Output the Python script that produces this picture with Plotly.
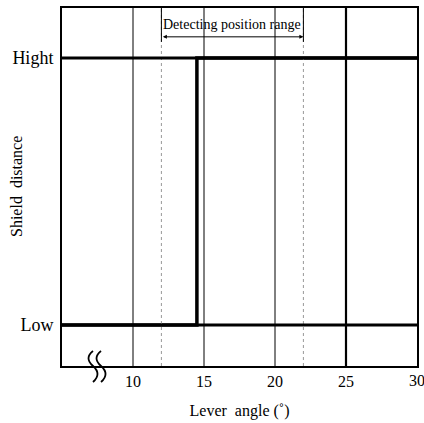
import plotly.graph_objects as go

# Data
angle = [5, 14.5, 14.5, 30]          # lever angle (deg)
level = [0, 0, 1, 1]                 # shield distance: 0 = Low, 1 = Hight
x_ticks = [10, 15, 20, 25, 30]
x_tick_text = ["10", "15", "20", "25", "30"]
y_ticks = [0, 1]
y_tick_text = ["Low", "Hight"]
range_start, range_end = 12, 22
thin_grid = [10, 15, 20]
thick_grid = [25]

FONT = "Liberation Serif"

fig = go.Figure()
fig.add_trace(go.Scatter(x=angle, y=level, mode="lines",
                         line=dict(color="black", width=3.5),
                         hoverinfo="skip", showlegend=False))

for v in thin_grid:
    fig.add_vline(x=v, line=dict(color="black", width=1))
for v in thick_grid:
    fig.add_vline(x=v, line=dict(color="black", width=2.2))
for v in (range_start, range_end):
    fig.add_vline(x=v, line=dict(color="#999", width=1, dash="dot"))
    fig.add_shape(type="line", x0=v, x1=v, y0=1.06, y1=1.187, xref="x", yref="y",
                  line=dict(color="black", width=1))
for v in y_ticks:
    fig.add_hline(y=v, line=dict(color="black", width=3))

# Detecting position range arrow
fig.add_annotation(x=range_end, y=1.079, ax=range_start, ay=1.079,
                   xref="x", yref="y", axref="x", ayref="y",
                   showarrow=True, arrowhead=2, arrowside="end+start",
                   arrowsize=0.8, arrowwidth=1, arrowcolor="black", text="")
fig.add_annotation(x=(range_start + range_end) / 2, y=1.09, yanchor="bottom",
                   xref="x", yref="y", showarrow=False,
                   text="Detecting position range",
                   font=dict(family=FONT, size=14, color="black"))

# last x tick label (partly outside the page, as in the original)
fig.add_annotation(x=x_ticks[-1], y=0, xref="x", yref="paper", yanchor="top", yshift=-4,
                   showarrow=False, text=x_tick_text[-1],
                   font=dict(family=FONT, size=16, color="black"))

# y axis title
fig.add_annotation(x=(16 - 62) / 355, y=0.5, xref="paper", yref="paper", showarrow=False,
                   xanchor="center", yanchor="middle",
                   textangle=-90, text="Shield  distance",
                   font=dict(family=FONT, size=16, color="black"))

# axis break mark (two S-curves), paper coordinates from pixel offsets
def px(xp, yp):
    return (xp - 62) / 355, (366 - yp) / 358

for dx in (0, 8):
    pts = [px(93 + dx, 351), px(84 + dx, 358), px(93 + dx, 366), px(102 + dx, 374), px(93 + dx, 382)]
    path = "M {:.4f},{:.4f} Q {:.4f},{:.4f} {:.4f},{:.4f} T {:.4f},{:.4f}".format(
        pts[0][0], pts[0][1], pts[1][0], pts[1][1], pts[2][0], pts[2][1], pts[4][0], pts[4][1])
    fig.add_shape(type="path", path=path, xref="paper", yref="paper",
                  line=dict(color="black", width=1.8))

fig.update_layout(
    width=424, height=423,
    margin=dict(l=62, r=7, t=8, b=57),
    plot_bgcolor="white", paper_bgcolor="white",
    font=dict(family=FONT, size=16, color="black"),
    xaxis=dict(range=[5, 30], tickvals=x_ticks[:-1], ticktext=x_tick_text[:-1],
               showgrid=False, zeroline=False, showline=True, mirror=True,
               linecolor="black", linewidth=2, ticks="", automargin=False,
               tickfont=dict(family=FONT, size=16),
               title=dict(text="Lever  angle (˚)", font=dict(family=FONT, size=16), standoff=16)),
    yaxis=dict(range=[-0.154, 1.187], tickvals=y_ticks, ticktext=y_tick_text,
               showgrid=False, zeroline=False, showline=True, mirror=True,
               linecolor="black", linewidth=2, ticks="", automargin=False,
               ticklabelstandoff=3,
               tickfont=dict(family=FONT, size=18)),
)

fig.write_html("out.html")
